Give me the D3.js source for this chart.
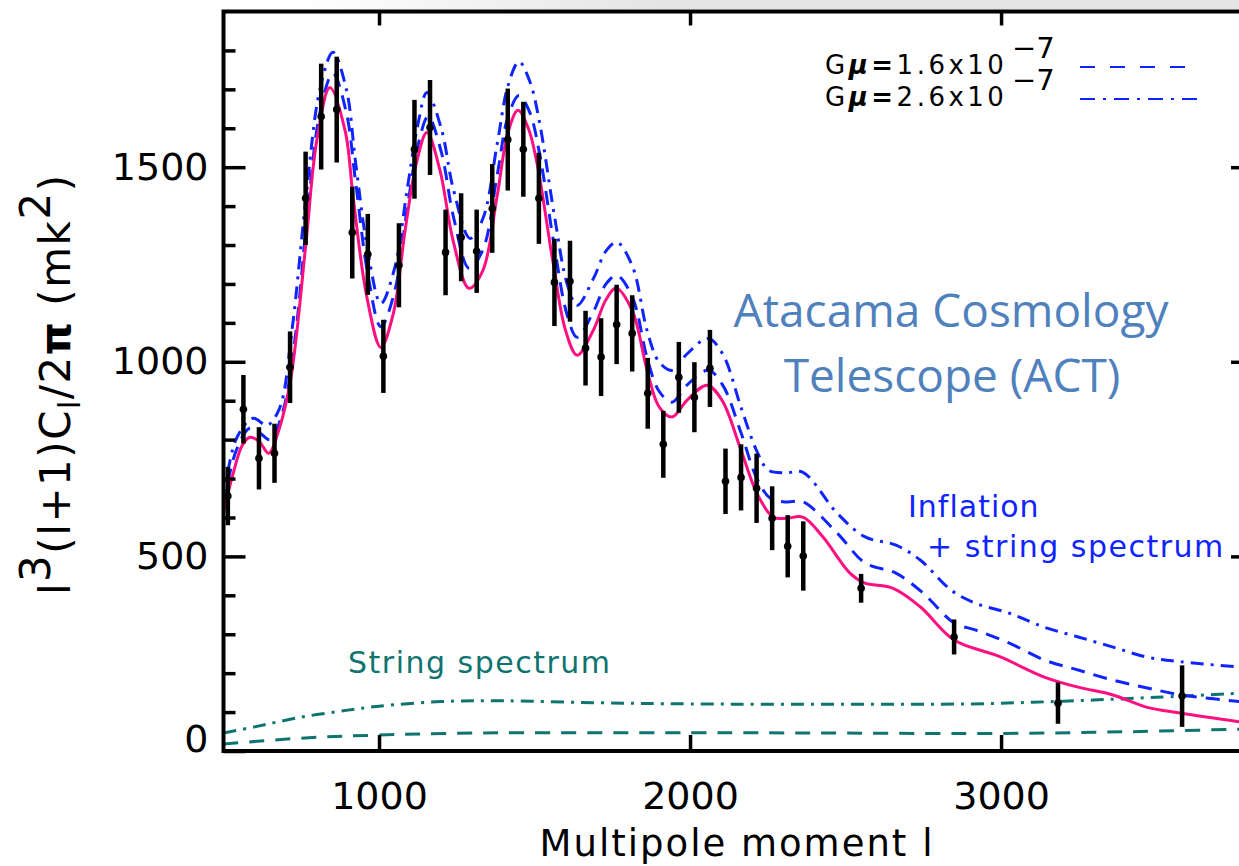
<!DOCTYPE html>
<html>
<head>
<meta charset="utf-8">
<script src="https://cdn.jsdelivr.net/npm/d3@7"></script>
<style>
  body { margin: 0; background: #fff; }
  svg { display: block; }
</style>
</head>
<body>
<div id="chart"></div>
<script>
// ACT band powers (multipole, value, 1-sigma error)
let dataL = [514, 564, 614, 664, 714, 764, 814, 864, 914, 964, 1014, 1064, 1114, 1164, 1214, 1264, 1314, 1364,
  1414, 1464, 1514, 1564, 1614, 1664, 1714, 1764, 1814, 1864, 1914, 1964, 2014, 2064, 2114, 2164, 2214, 2264,
  2314, 2364, 2550, 2849, 3183, 3582]
let dataV = [655, 878, 752, 765, 986, 1420, 1630, 1648, 1332, 1276, 1014, 1248, 1546, 1602, 1281, 1320, 1284, 1394,
  1571, 1546, 1420, 1204, 1207, 1035, 1012, 1096, 1073, 919, 788, 960, 909, 983, 693, 703, 675, 598,
  526, 501, 418, 293, 123, 141]
let dataErr = [75, 88, 80, 76, 92, 120, 136, 136, 118, 104, 94, 108, 127, 122, 110, 113, 107, 114,
  131, 122, 117, 112, 104, 96, 100, 102, 98, 91, 86, 91, 90, 99, 84, 85, 89, 82,
  80, 89, 37, 45, 53, 79]

// inflation only (LCDM) model
let lcdm = [[500, 614], [530, 710], [560, 785], [585, 806], [615, 795], [645, 765], [680, 830], [717, 960],
  [765, 1304], [800, 1569], [842, 1705], [891, 1594], [917, 1422], [961, 1166], [1006, 1037], [1046, 1124],
  [1084, 1338], [1120, 1510], [1154, 1589], [1196, 1492], [1238, 1312], [1289, 1189], [1334, 1235],
  [1379, 1422], [1415, 1590], [1447, 1646], [1480, 1600], [1508, 1510], [1560, 1253], [1600, 1080],
  [1637, 1017], [1689, 1081], [1730, 1160], [1762, 1189], [1814, 1132], [1862, 978], [1900, 885],
  [1942, 858], [1990, 901], [2055, 940], [2103, 901], [2161, 780], [2215, 662], [2267, 601], [2310, 598],
  [2363, 601], [2428, 549], [2514, 457], [2560, 432], [2653, 418], [2741, 370], [2849, 285], [2994, 243],
  [3139, 190], [3248, 164], [3360, 144], [3470, 112], [3580, 97], [3810, 70]]

// inflation + strings, G mu = 1.6e-7
let strings16 = [[500, 632], [540, 770], [585, 830], [620, 815], [650, 800], [690, 870], [730, 1060],
  [770, 1380], [810, 1640], [852, 1741], [895, 1640], [925, 1460], [965, 1220], [1006, 1090], [1050, 1180],
  [1090, 1390], [1125, 1555], [1158, 1630], [1200, 1540], [1240, 1370], [1290, 1240], [1335, 1290],
  [1380, 1480], [1415, 1630], [1450, 1684], [1485, 1640], [1515, 1540], [1565, 1290], [1605, 1120],
  [1637, 1063], [1690, 1130], [1730, 1200], [1765, 1222], [1815, 1165], [1862, 1010], [1900, 925],
  [1942, 896], [1990, 940], [2058, 978], [2105, 940], [2165, 815], [2215, 700], [2260, 648], [2310, 640],
  [2363, 640], [2473, 560], [2563, 483], [2662, 457], [2749, 406], [2849, 329], [2917, 311], [3027, 277],
  [3139, 234], [3248, 208], [3360, 182], [3470, 162], [3580, 144], [3810, 124]]

// inflation + strings, G mu = 2.6e-7
let strings26 = [[500, 640], [540, 800], [595, 855], [640, 837], [680, 880], [720, 1080], [765, 1420],
  [810, 1700], [852, 1795], [895, 1700], [925, 1510], [965, 1280], [1006, 1150], [1050, 1240], [1090, 1440],
  [1125, 1610], [1154, 1692], [1200, 1600], [1240, 1440], [1293, 1317], [1335, 1370], [1380, 1560],
  [1415, 1710], [1450, 1771], [1485, 1720], [1515, 1620], [1565, 1370], [1605, 1200], [1637, 1145],
  [1690, 1215], [1730, 1285], [1765, 1307], [1815, 1245], [1862, 1080], [1900, 1000], [1942, 978],
  [1990, 1020], [2058, 1060], [2105, 1020], [2165, 880], [2215, 770], [2253, 721], [2310, 715], [2363, 716],
  [2473, 611], [2563, 550], [2662, 529], [2741, 490], [2840, 413], [2917, 380], [3027, 354], [3139, 318],
  [3248, 293], [3360, 267], [3470, 241], [3580, 229], [3810, 213]]

// string spectra alone
let stringOnly26 = [[500, 46], [600, 62], [750, 87], [900, 105], [1000, 115], [1200, 127], [1400, 129],
  [1700, 124], [2000, 121], [2500, 120], [2900, 121], [3200, 128], [3500, 138], [3810, 150]]
let stringOnly16 = [[500, 18], [750, 33], [1000, 41], [1300, 46], [2000, 47], [2500, 46], [3000, 45],
  [3300, 48], [3500, 51], [3810, 57]]

let xTicks = [1000, 2000, 3000]
let yTicks = [0, 500, 1000, 1500]
let yMinor = d3.range(100, 1900, 100).filter(d => d % 500 !== 0)

let width = 1239,
  height = 866,
  plot = {left: 223.5, right: 1253, top: 11.5, bottom: 751}

let blue = '#1024ff',
  pink = '#ff0f80',
  teal = '#0f7470',
  actBlue = '#4f81bd'

let x = d3.scaleLinear()
  .domain([500, 3810])
  .range([plot.left, plot.right])

let y = d3.scaleLinear()
  .domain([0, 1900])
  .range([plot.bottom, plot.top])

let svg = d3.select('#chart').append('svg')
  .attr('width', width)
  .attr('height', height)
  .style('font-family', 'DejaVu Sans')

// faint grey strip along the top (slide background)
let defs = svg.append('defs')
let grad = defs.append('linearGradient').attr('id', 'topfade')
grad.append('stop').attr('offset', '0%').attr('stop-color', '#fff')
grad.append('stop').attr('offset', '40%').attr('stop-color', '#e4e4e4')
grad.append('stop').attr('offset', '100%').attr('stop-color', '#e4e4e4')
svg.append('rect')
  .attr('x', 300).attr('y', 0)
  .attr('width', width - 300).attr('height', 9)
  .attr('fill', 'url(#topfade)')

defs.append('clipPath')
  .attr('id', 'clip')
  .append('rect')
  .attr('x', plot.left)
  .attr('y', plot.top)
  .attr('width', plot.right - plot.left)
  .attr('height', plot.bottom - plot.top)

let line = d3.line()
  .x(d => x(d[0]))
  .y(d => y(d[1]))
  .curve(d3.curveCatmullRom.alpha(0.5))

let curves = svg.append('g').attr('clip-path', 'url(#clip)')

curves.append('path').datum(stringOnly16)
  .attr('d', line).attr('fill', 'none')
  .attr('stroke', teal).attr('stroke-width', 3)
  .attr('stroke-dasharray', '15,11')

curves.append('path').datum(stringOnly26)
  .attr('d', line).attr('fill', 'none')
  .attr('stroke', teal).attr('stroke-width', 3)
  .attr('stroke-dasharray', '13,7,3,7')

curves.append('path').datum(strings26)
  .attr('d', line).attr('fill', 'none')
  .attr('stroke', blue).attr('stroke-width', 3)
  .attr('stroke-dasharray', '13,7,3,7')

curves.append('path').datum(strings16)
  .attr('d', line).attr('fill', 'none')
  .attr('stroke', blue).attr('stroke-width', 3)
  .attr('stroke-dasharray', '14,9')

curves.append('path').datum(lcdm)
  .attr('d', line).attr('fill', 'none')
  .attr('stroke', pink).attr('stroke-width', 3)

// error bars
let pts = svg.append('g').selectAll('.pt')
  .data(dataL.map((l, i) => ({l: l, v: dataV[i], e: dataErr[i]})))
  .enter().append('g')

pts.append('line')
  .attr('x1', d => x(d.l)).attr('x2', d => x(d.l))
  .attr('y1', d => y(d.v + d.e)).attr('y2', d => y(d.v - d.e))
  .attr('stroke', '#000').attr('stroke-width', 4.5)

pts.append('circle')
  .attr('cx', d => x(d.l)).attr('cy', d => y(d.v))
  .attr('r', 3.8).attr('fill', '#000')

// axes, ticks point inward
function styleAxis(g) {
  g.select('.domain').remove()
  g.selectAll('.tick line').attr('stroke', '#000').attr('stroke-width', 3.5)
  g.selectAll('text').attr('fill', '#000').style('font-family', 'DejaVu Sans').style('font-size', '38px')
}

svg.append('g')
  .attr('transform', 'translate(' + plot.left + ',0)')
  .call(d3.axisLeft(y).tickValues(yTicks).tickSize(-22).tickPadding(15).tickFormat(d3.format('d')))
  .call(styleAxis)
  .call(g => g.selectAll('.tick').filter(d => d === 0).select('text').attr('dy', '0.0em'))

svg.append('g')
  .attr('transform', 'translate(' + plot.left + ',0)')
  .call(d3.axisLeft(y).tickValues(yMinor).tickSize(-12).tickFormat(''))
  .call(styleAxis)

svg.append('g')
  .attr('transform', 'translate(' + plot.right + ',0)')
  .call(d3.axisRight(y).tickValues(yTicks.slice(1)).tickSize(-22).tickFormat(''))
  .call(styleAxis)

svg.append('g')
  .attr('transform', 'translate(' + plot.right + ',0)')
  .call(d3.axisRight(y).tickValues(yMinor).tickSize(-12).tickFormat(''))
  .call(styleAxis)

svg.append('g')
  .attr('transform', 'translate(0,' + plot.bottom + ')')
  .call(d3.axisBottom(x).tickValues(xTicks).tickSize(-16).tickPadding(31).tickFormat(d3.format('d')))
  .call(styleAxis)

svg.append('g')
  .attr('transform', 'translate(0,' + plot.top + ')')
  .call(d3.axisTop(x).tickValues(xTicks).tickSize(-14).tickFormat(''))
  .call(styleAxis)

// frame
svg.append('rect')
  .attr('x', plot.left).attr('y', plot.top)
  .attr('width', plot.right - plot.left)
  .attr('height', plot.bottom - plot.top)
  .attr('fill', 'none').attr('stroke', '#000').attr('stroke-width', 4)

// axis titles
svg.append('text')
  .attr('x', 737)
  .attr('y', 856)
  .attr('text-anchor', 'middle')
  .style('font-size', '37px')
  .style('letter-spacing', '2px')
  .text('Multipole moment l')

let yt = svg.append('text')
  .attr('transform', 'translate(70,' + ((plot.top + plot.bottom) / 2 + 3) + ') rotate(-90)')
  .attr('text-anchor', 'middle')
  .style('font-size', '42px')
  .style('letter-spacing', '1.5px')
yt.append('tspan').text('l')
yt.append('tspan').attr('dy', -20).text('3')
yt.append('tspan').attr('dy', 20).text('(l+1)C')
yt.append('tspan').attr('dy', 10).style('font-size', '30px').text('l')
yt.append('tspan').attr('dy', -10).text('/2')
yt.append('tspan').style('font-weight', 'bold').text('π')
yt.append('tspan').text(' (mk')
yt.append('tspan').attr('dy', -20).text('2')
yt.append('tspan').attr('dy', 20).text(')')

// legend
let legend = [
  {label: '1.6x10', dash: '15,15', yb: 74},
  {label: '2.6x10', dash: '15,8,3,8', yb: 106}
]
legend.forEach(function (d) {
  let t = svg.append('text')
    .attr('x', 825).attr('y', d.yb)
    .style('font-size', '26px')
    .style('letter-spacing', '3.5px')
  t.append('tspan').text('G')
  t.append('tspan').style('font-style', 'italic').style('font-weight', 'bold').text('μ')
  t.append('tspan').style('font-weight', 'bold').text('=')
  t.append('tspan').text(d.label)
  svg.append('text')
    .attr('x', 1012).attr('y', d.yb - 16)
    .style('font-size', '29px')
    .text('−7')
  svg.append('line')
    .attr('x1', 1080).attr('x2', d.dash === '15,15' ? 1186 : 1198)
    .attr('y1', d.yb - 7).attr('y2', d.yb - 7)
    .attr('stroke', blue).attr('stroke-width', 2)
    .attr('stroke-dasharray', d.dash)
})

// annotations
svg.append('text')
  .attr('x', 951).attr('y', 327)
  .attr('text-anchor', 'middle')
  .attr('fill', actBlue)
  .style('font-family', 'Open Sans')
  .style('font-size', '46px')
  .text('Atacama Cosmology')

svg.append('text')
  .attr('x', 952).attr('y', 392)
  .attr('text-anchor', 'middle')
  .attr('fill', actBlue)
  .style('font-family', 'Open Sans')
  .style('font-size', '46px')
  .text('Telescope (ACT)')

svg.append('text')
  .attr('x', 908).attr('y', 517)
  .attr('fill', blue)
  .style('font-size', '30px')
  .style('letter-spacing', '1px')
  .text('Inflation')

svg.append('text')
  .attr('x', 927).attr('y', 557)
  .attr('fill', blue)
  .style('font-size', '30px')
  .style('letter-spacing', '1.5px')
  .style('white-space', 'pre')
  .text('+ string spectrum')

svg.append('text')
  .attr('x', 348).attr('y', 673)
  .attr('fill', teal)
  .style('font-size', '30px')
  .style('letter-spacing', '1.5px')
  .text('String spectrum')
</script>
</body>
</html>
